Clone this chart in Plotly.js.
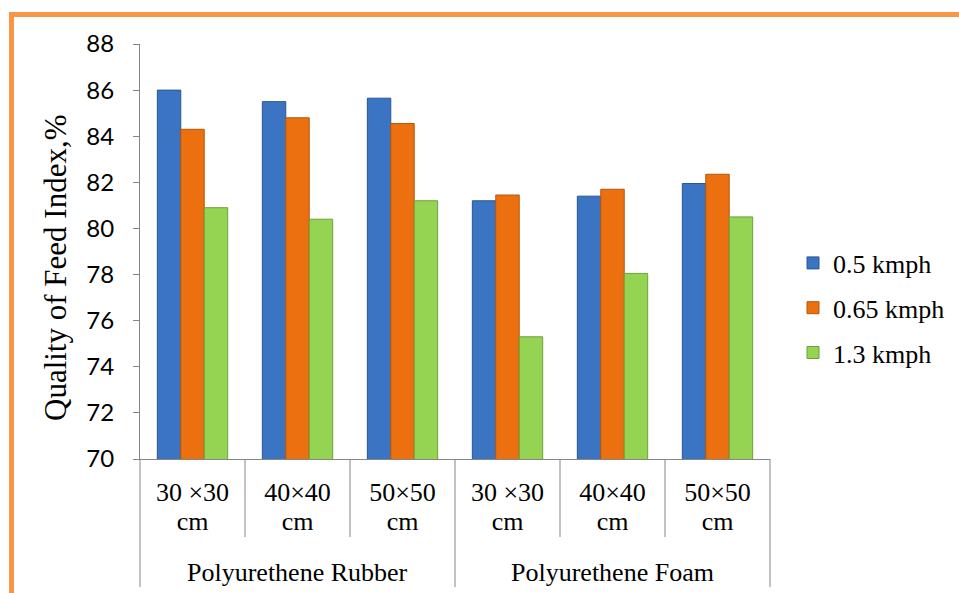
<!DOCTYPE html>
<html><head><meta charset="utf-8">
<script src="https://cdn.plot.ly/plotly-3.0.1.min.js"></script>
<style>html,body{margin:0;padding:0;background:#fff}#chart{width:959px;height:593px}</style>
</head><body><div id="chart"></div>
<script>
const groups = ["Polyurethene Rubber", "Polyurethene Foam"];
const sizes = ["30 ×30<br>cm", "40×40<br>cm", "50×50<br>cm"];
const seriesNames = ["0.5 kmph", "0.65 kmph", "1.3 kmph"];
const v05 = [86.0, 85.5, 85.65, 81.2, 81.4, 81.95];
const v065 = [84.3, 84.8, 84.55, 81.45, 81.7, 82.35];
const v13 = [80.9, 80.4, 81.2, 75.3, 78.05, 80.5];
const yTicks = [70, 72, 74, 76, 78, 80, 82, 84, 86, 88];

const colors = ["#3a74c2", "#ec7010", "#95d352"];
const edges = ["#2a5690", "#b4560c", "#6f9f3a"];
const SERIF = "'Liberation Serif', 'Times New Roman', Times, serif";

const cats = [], catText = [];
const big = t => t.split("<br>").map(l => '<span style="font-size:26px">' + l + '</span>').join("<br>");
groups.forEach((g, gi) => sizes.forEach(s => { cats.push(gi + "|" + s); catText.push(big(s)); }));

const values = [v05, v065, v13];
const traces = values.map((v, i) => ({
  type: "bar", x: cats, y: v, name: seriesNames[i], legendgroup: "g" + i,
  marker: {color: colors[i], line: {color: edges[i], width: 1}}
}));

const L = 140, R = 770, T = 44, B = 459;
const px = p => (p - L) / (R - L);
const py = p => (B - p) / (B - T);
const nCat = cats.length;
const shapes = [
  {type: "rect", xref: "paper", yref: "paper", x0: px(11.5), x1: px(975), y0: py(14.5), y1: py(620),
   line: {color: "#f79646", width: 5}, fillcolor: "rgba(0,0,0,0)", layer: "below"}
];
for (let i = 0; i <= nCat; i++) {
  const isGroupEdge = i % sizes.length === 0;
  shapes.push({type: "line", xref: "paper", yref: "paper", x0: i / nCat, x1: i / nCat, y0: 0,
    y1: isGroupEdge ? py(587) : py(537), line: {color: "#868686", width: 1}});
}
const annotations = groups.map((g, gi) => ({
  xref: "paper", yref: "paper", x: (gi * sizes.length + sizes.length / 2) / nCat, y: py(572),
  text: g, showarrow: false, xanchor: "center", yanchor: "middle",
  font: {family: SERIF, size: 26, color: "#000"}
}));
annotations.push({
  xref: "paper", yref: "paper", x: px(55), y: py(268), text: "Quality of Feed Index,%",
  textangle: -90, showarrow: false, xanchor: "center", yanchor: "middle",
  font: {family: SERIF, size: 31, color: "#000"}
});

const layout = {
  width: 959, height: 593,
  margin: {l: L, r: 959 - R, t: T, b: 593 - B, autoexpand: false},
  paper_bgcolor: "#fff", plot_bgcolor: "#fff",
  bargap: 0.33, bargroupgap: 0,
  showlegend: true,
  legend: {x: px(793), y: py(308), yanchor: "middle", xanchor: "left", tracegroupgap: 8,
    font: {family: SERIF, size: 26, color: "#000"}},
  xaxis: {type: "category", showline: true, linecolor: "#868686", linewidth: 1,
    ticks: "", showgrid: false, tickvals: cats, ticktext: catText, ticklabelstandoff: 15,
    automargin: false,
    tickfont: {family: SERIF, size: 22, color: "#000"}},
  yaxis: {range: [70, 88], tickvals: yTicks, ticks: "outside", ticklen: 6, tickcolor: "#868686",
    showline: true, linecolor: "#868686", linewidth: 1, showgrid: false, zeroline: false,
    ticklabelstandoff: 14, automargin: false,
    tickfont: {family: "Lato", size: 24, color: "#000"}},
  shapes: shapes,
  annotations: annotations
};
Plotly.newPlot("chart", traces, layout, {displayModeBar: false, staticPlot: true});
</script></body></html>
